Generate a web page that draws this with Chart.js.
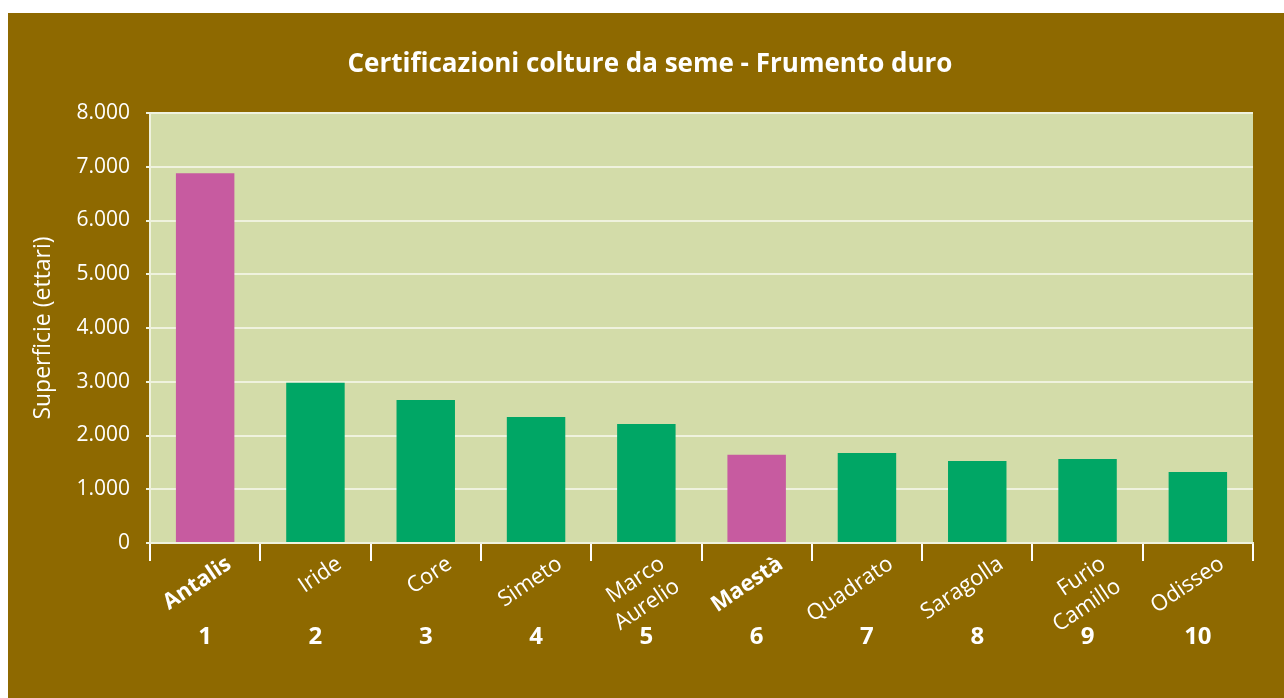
<!DOCTYPE html>
<html><head><meta charset="utf-8">
<script src="https://cdn.jsdelivr.net/npm/chart.js@4/dist/chart.umd.min.js"></script>
<style>
html,body{margin:0;padding:0;background:#fff;}
#wrap{position:absolute;left:8px;top:13px;width:1276px;height:685px;background:#8E6900;}
canvas{display:block;}
</style></head><body>
<div id="wrap"><canvas id="c" width="1276" height="685"></canvas></div>
<script>
const chartTitle = 'Certificazioni colture da seme - Frumento duro';
const categories = [["Antalis"],["Iride"],["Core"],["Simeto"],["Marco","Aurelio"],["Maestà"],["Quadrato"],["Saragolla"],["Furio","Camillo"],["Odisseo"]];
const ranks = ["1","2","3","4","5","6","7","8","9","10"];
const values = [6880, 2980, 2660, 2345, 2215, 1640, 1675, 1525, 1565, 1320];
const highlighted = [true,false,false,false,false,true,false,false,false,false];
const yTickLabels = ["0","1.000","2.000","3.000","4.000","5.000","6.000","7.000","8.000"];

const FONT = '"Open Sans", "Noto Sans", sans-serif';
const PINK = '#C75BA0', GREEN = '#00A665', PLOT = '#D3DCA9', GRID = '#EFF2DE';

const plotBg = {
  id: 'plotBg',
  beforeDraw(chart) {
    const {ctx, chartArea: a} = chart;
    ctx.save(); ctx.fillStyle = PLOT;
    ctx.fillRect(a.left, a.top, a.right - a.left, a.bottom - a.top);
    ctx.restore();
  }
};
const titlePlugin = {
  id: 'titlePlugin',
  afterDraw(chart) {
    const {ctx} = chart;
    ctx.save();
    ctx.fillStyle = '#fff';
    ctx.font = 'bold 26px ' + FONT;
    ctx.textAlign = 'center'; ctx.textBaseline = 'middle';
    ctx.fillText(chartTitle, chart.width / 2 + 4, 52);
    ctx.restore();
  }
};
const rotLabels = {
  id: 'rotLabels',
  afterDraw(chart) {
    const {ctx} = chart; const xs = chart.scales.x;
    const ang = -34 * Math.PI / 180;
    ctx.save();
    ctx.fillStyle = '#fff';
    categories.forEach((lines, i) => {
      ctx.save();
      ctx.font = (highlighted[i] ? 'bold ' : '') + '22px ' + FONT;
      const x = xs.getPixelForValue(i) + (lines.length > 1 ? 16 : 24);
      ctx.translate(x, xs.top + 19);
      ctx.rotate(ang);
      ctx.textAlign = 'right'; ctx.textBaseline = 'middle';
      lines.forEach((l, j) => ctx.fillText(l, 0, j * 27));
      ctx.restore();
    });
    ctx.restore();
  }
};

new Chart(document.getElementById('c'), {
  type: 'bar',
  data: {
    labels: categories,
    datasets: [{
      data: values,
      backgroundColor: highlighted.map(h => h ? PINK : GREEN),
      borderWidth: 0,
      categoryPercentage: 1,
      barPercentage: 0.53,
      xAxisID: 'x', yAxisID: 'y'
    }]
  },
  options: {
    responsive: false,
    animation: false,
    devicePixelRatio: 1,
    layout: {padding: {left: 0, right: 31, top: 100, bottom: 0}},
    plugins: {
      legend: {display: false},
      tooltip: {enabled: false},
      title: {display: false}
    },
    scales: {
      x: {
        type: 'category',
        offset: true,
        afterFit(s) { s.height = 18; },
        grid: {display: true, drawOnChartArea: false, drawTicks: true, tickLength: 18, color: '#fff', lineWidth: 2, offset: true},
        border: {display: true, color: GRID, width: 2},
        ticks: {display: false}
      },
      x2: {
        type: 'category',
        position: 'bottom',
        labels: ranks,
        offset: true,
        afterFit(s) { s.height = 137; },
        grid: {display: false, drawTicks: false},
        border: {display: false},
        ticks: {color: '#fff', font: {family: FONT, size: 24, weight: 'bold'}, padding: 62, maxRotation: 0, autoSkip: false}
      },
      y: {
        min: 0, max: 8000,
        afterFit(s) { s.width = 142; },
        ticks: {stepSize: 1000, color: '#fff', padding: 16, font: {family: FONT, size: 21},
          callback: v => yTickLabels[Math.round(v / 1000)]},
        grid: {color: GRID, lineWidth: 2, tickLength: 4},
        border: {display: true, color: GRID, width: 2},
        title: {display: true, text: 'Superficie (ettari)', color: '#fff', font: {family: FONT, size: 23}, padding: {top: 22, bottom: 0}}
      }
    }
  },
  plugins: [plotBg, rotLabels, titlePlugin]
});
</script>
</body></html>
